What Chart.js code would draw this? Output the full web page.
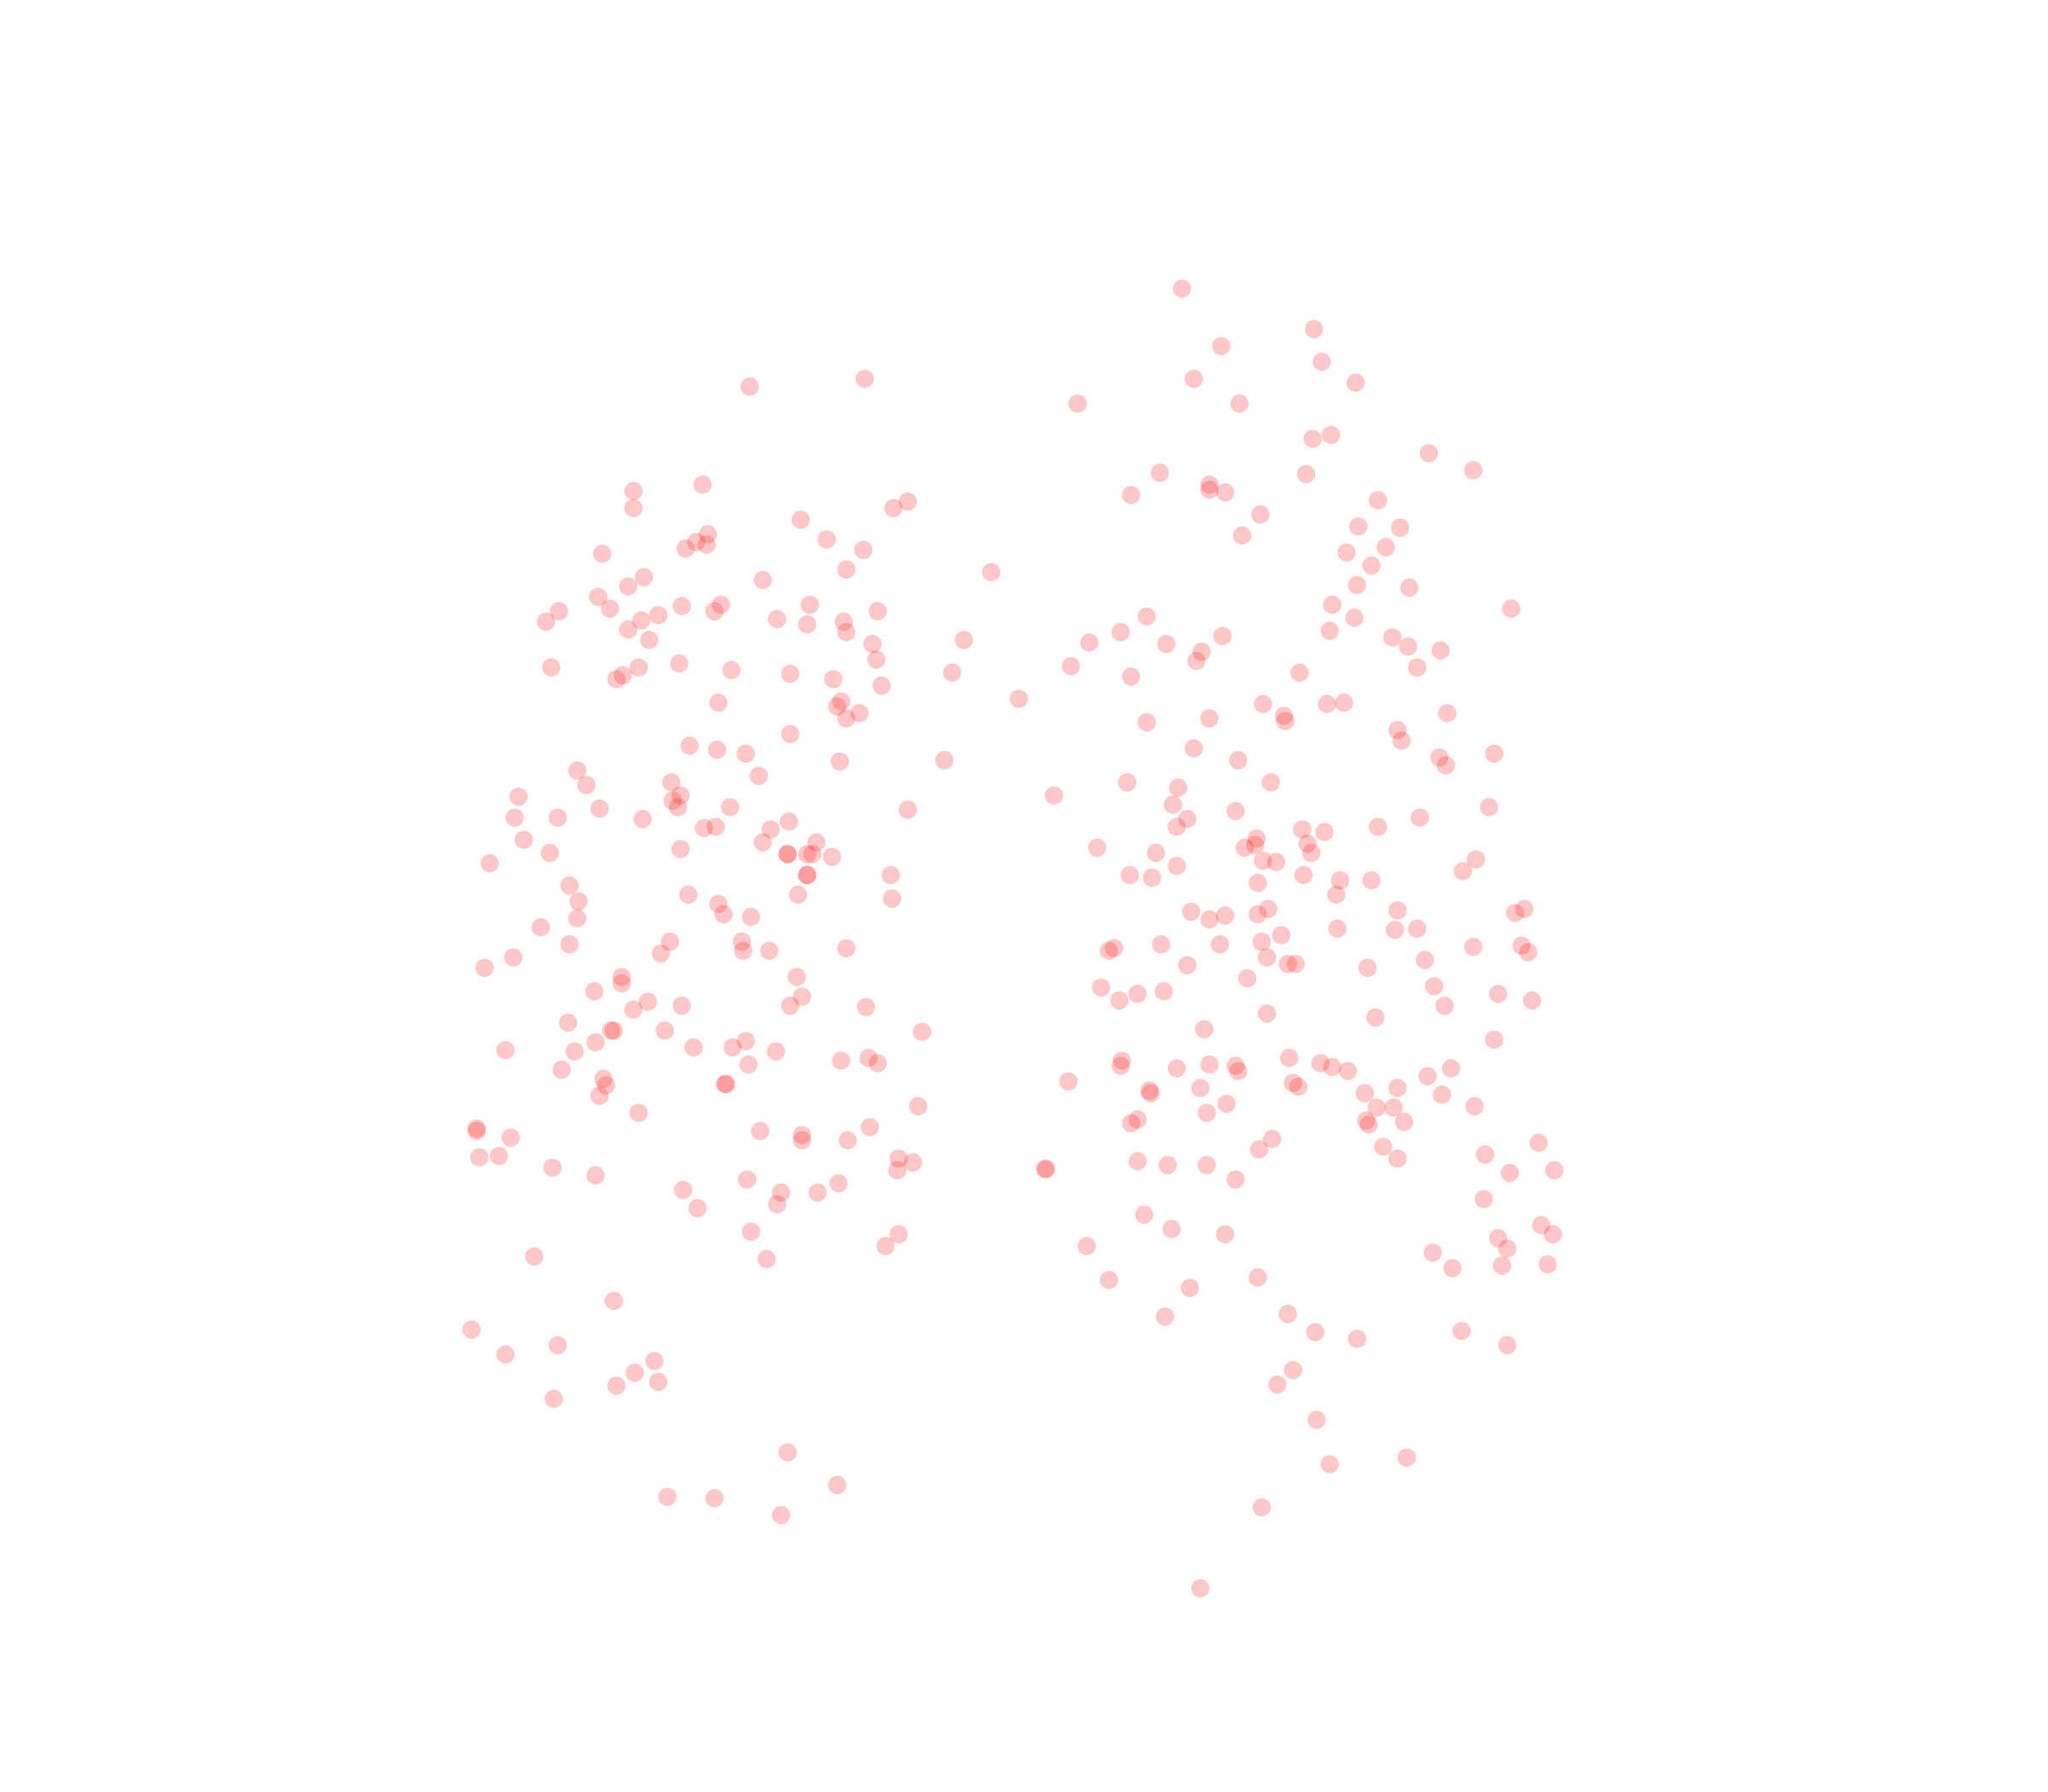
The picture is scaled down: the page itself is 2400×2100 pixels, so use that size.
<!DOCTYPE html>
<html>
<head>
<meta charset="utf-8">
<script src="https://cdn.jsdelivr.net/npm/chart.js@4"></script>
<style>
  html, body { margin: 0; padding: 0; background: #fff; }
  canvas { display: block; }
</style>
</head>
<body>
<canvas id="scatter" width="2400" height="2100" style="width:2400px;height:2100px"></canvas>
<script>
// values, top half first, then bottom half
const xValues = [
  905,1006,935,1012,662,914,574,1038,825,949,1019,1005,1094,888,1000,1128,538,926,926,938,
  485,866,1055,695,684,485,965,613,1040,1072,542,951,533,541,633,525,661,1061,461,1031,
  1050,648,759,584,493,481,1039,1079,458,552,522,620,467,428,1020,1157,672,547,504,878,
  1037,491,418,595,646,618,481,648,1018,858,936,1066,497,738,893,834,668,1078,920,1103,
  916,671,820,422,489,520,560,1085,477,472,729,605,638,866,995,675,780,550,644,641,
  967,1016,1029,658,648,983,984,926,878,1108,1070,605,1073,528,549,571,914,1144,643,723,
  948,1102,1107,442,581,449,514,863,973,902,397,521,807,515,898,519,559,459,695,946,
  1140,394,427,492,604,909,1087,901,548,539,590,997,1014,1055,401,584,625,962,1001,961,
  953,840,521,421,603,603,618,622,637,885,1004,375,967,977,1130,901,618,618,682,865,882,998,
  1120,1026,1050,963,436,611,527,683,1023,
  443,550,554,575,442,414,912,926,938,963,971,981,1024,1070,1068,1085,1160,1167,
  513,436,568,569,589,506,648,849,853,889,934,966,970,986,992,909,1047,1091,1128,1165,1170,
  371,393,476,476,455,610,614,605,496,485,522,663,843,871,891,857,955,1098,1106,1147,1173,
  970,1053,922,435,468,470,509,706,1144,387,440,456,531,561,571,594,644,665,672,573,430,
  462,464,459,555,556,489,859,858,901,926,946,948,987,1011,1020,1032,1093,1111,818,880,881,
  919,990,994,1045,1070,1104,1129,939,924,1054,1067,871,866,1046,1048,1075,703,
  582,614,614,666,649,365,365,391,974,964,1059,1178,1137,367,382,423,456,688,699,687,801,800,
  871,894,924,946,1070,1156,1190,572,642,523,598,626,534,595,1136,876,897,938,575,688,678,832,
  1180,1189,1147,1154,1097,1150,1112,1185,409,587,849,911,963,470,892,986,1007,1039,1119,1154,
  361,427,387,501,486,504,472,424,990,978,1008,603,1018,1077,641,511,547,598,966,919
];
const yValues = [
  221,252,265,277,290,290,296,293,309,309,333,336,347,362,363,360,371,371,375,377,
  376,379,383,384,389,389,394,398,403,404,409,410,415,417,413,420,421,419,424,423,
  433,436,438,444,442,449,448,450,457,463,464,463,466,468,463,466,468,468,471,472,
  473,475,476,474,476,478,482,484,483,484,487,488,490,490,493,492,493,495,499,498,
  506,505,510,511,511,508,513,511,517,520,515,516,520,518,515,525,535,538,537,541,
  539,539,538,546,550,548,552,550,553,546,559,562,567,571,574,577,573,577,583,582,
  582,580,586,590,594,601,599,599,599,603,610,609,609,613,616,618,618,619,620,621,
  618,626,626,627,629,627,626,633,633,634,635,635,637,633,643,645,645,642,646,647,
  649,649,650,653,654,654,654,654,656,653,653,661,659,660,658,663,670,670,670,670,672,670,
  667,674,674,676,678,685,685,688,685,
  690,692,700,702,703,710,698,704,701,700,696,716,711,697,712,711,699,696,
  721,723,721,728,728,730,726,728,726,723,723,721,733,738,738,739,741,735,725,724,729,
  741,733,748,753,759,748,763,770,767,773,770,771,756,761,759,766,749,755,770,761,766,
  776,779,788,783,789,789,789,790,796,804,805,798,802,802,797,805,812,810,814,815,819,
  826,831,839,830,830,852,812,816,818,815,816,820,810,814,817,820,824,818,828,835,837,
  833,829,832,837,833,838,847,845,852,848,848,857,860,858,861,859,847,
  866,869,873,863,873,864,866,871,872,880,878,875,884,886,885,894,900,887,890,896,895,895,
  889,892,892,903,887,898,896,903,906,911,913,913,925,922,918,930,941,945,943,945,954,954,
  938,945,948,956,959,969,971,968,962,964,980,986,978,996,1008,1006,1020,1025,1019,1030,
  1018,1030,1037,1042,1051,1058,1061,1071,1049,1060,1087,1112,1121,1116,1137,1146,1147,1160,1154,1216
];

const points = xValues.map((x, i) => ({ x: x, y: yValues[i] }));

new Chart(document.getElementById("scatter"), {
  type: "scatter",
  data: {
    datasets: [{
      data: points,
      backgroundColor: "rgba(255, 0, 0, 0.22)",
      borderWidth: 0,
      pointRadius: 10.7
    }]
  },
  options: {
    responsive: false,
    animation: false,
    devicePixelRatio: 1,
    layout: { padding: 0 },
    plugins: { legend: { display: false }, tooltip: { enabled: false } },
    scales: {
      // chart.js insets the plot by the point radius, so the ranges are trimmed to match
      x: { type: "linear", display: false, min: 7, max: 1561 },
      y: { type: "linear", display: false, min: 7, max: 1365, reverse: true }
    }
  }
});
</script>
</body>
</html>
